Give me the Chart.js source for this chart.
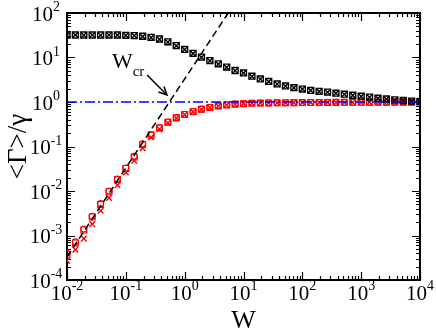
<!DOCTYPE html>
<html><head><meta charset="utf-8">
<script src="https://cdn.jsdelivr.net/npm/chart.js@4/dist/chart.umd.min.js"></script>
<style>html,body{margin:0;padding:0;background:#fff}canvas{display:block}</style>
</head><body>
<canvas id="c" width="436" height="332"></canvas>
<script>
// ---- data ----
const W = [0.01,0.01389,0.01931,0.02683,0.03728,0.05179,0.07197,0.1,0.1389,0.1931,0.2683,0.3728,0.5179,0.7197,
  1,1.389,1.931,2.683,3.728,5.179,7.197,10,13.89,19.31,26.83,37.28,51.79,71.97,100,138.9,193.1,268.3,372.8,517.9,719.7,
  1000,1389,1931,2683,3728,5179,7197,10000];
const blackSquares = [32,32,32,32,32,32,32,31.5,31,30,28.4,26,22.5,18.5,15.2,12.4,10.2,8.5,7.2,6.1,5.1,4.5,3.8,3.3,2.9,2.55,2.3,2.1,1.95,1.82,1.74,1.67,1.58,1.5,1.42,1.35,1.29,1.22,1.17,1.12,1.08,1.05,1.03];
const blackCrosses = [31.5,32,31.8,32,31.7,32,31.8,31.3,30.8,29.7,28,25.6,22.2,18.3,15,12.3,10.1,8.4,7.1,6,5.05,4.45,3.78,3.28,2.88,2.53,2.28,2.08,1.94,1.81,1.72,1.66,1.57,1.49,1.41,1.34,1.28,1.21,1.16,1.11,1.07,1.04,1.02];
const redCircles = [4.0e-4,7.2e-4,1.4e-3,2.7e-3,5.2e-3,0.0100,0.0185,0.033,0.06,0.115,0.185,0.265,0.355,0.445,0.53,0.61,0.69,0.76,0.82,0.865,0.9,0.92,0.94,0.95,0.955,0.96,0.965,0.97,0.972,0.975,0.978,0.98,0.982,0.984,0.986,0.988,0.99,0.991,0.992,0.993,0.994,0.995,0.996];
const redSquares = [3.7e-4,6.8e-4,1.33e-3,2.6e-3,5.0e-3,0.0096,0.018,0.032,0.058,0.11,0.18,0.26,0.35,0.44,0.525,0.605,0.685,0.755,0.815,0.86,0.895,0.918,0.935,0.947,0.953,0.958,0.963,0.968,0.971,0.974,0.977,0.979,0.981,0.983,0.985,0.987,0.989,0.99,0.991,0.992,0.993,0.994,0.995];
const redCrosses = [2.7e-4,4.8e-4,8.5e-4,1.8e-3,3.6e-3,7.0e-3,0.0135,0.026,0.048,0.092,0.16,0.245,0.34,0.435,0.52,0.6,0.68,0.75,0.81,0.857,0.892,0.915,0.932,0.944,0.95,0.956,0.961,0.966,0.97,0.973,0.976,0.978,0.98,0.982,0.984,0.986,0.988,0.989,0.99,0.991,0.992,0.993,0.994];
const dashLineX = [0.01, 5.5];
const dashLineY = [3.3e-4, 100];
const unityLineX = [0.01, 10000];
const unityLineY = [1, 1];
const xTickExps = [-2,-1,0,1,2,3,4];
const yTickExps = [-4,-3,-2,-1,0,1,2];
const xTitle = 'W';
const yTitle = '<Γ>/γ';
const annMain = 'W', annSub = 'cr';

const pts = (xs, ys) => xs.map((x,i)=>({x, y: ys[i]}));
const SERIF = '"Liberation Serif","Times New Roman",serif';

const decoPlugin = {
  id: 'deco',
  beforeDatasetsDraw(chart){
    const {ctx, chartArea:a, scales:{x, y}} = chart;
    ctx.save();
    ctx.strokeStyle = '#000';
    ctx.lineWidth = 1.2;
    ctx.beginPath();
    const xMin = Math.log10(x.min), xMax = Math.log10(x.max);
    for (let d = Math.round(xMin); d <= Math.round(xMax); d++) {
      for (let m = 1; m <= 9; m++) {
        const v = m * Math.pow(10, d);
        if (v < x.min*0.999 || v > x.max*1.001) continue;
        const px = Math.round(x.getPixelForValue(v)) + 0.5;
        const len = m === 1 ? 8 : 4;
        ctx.moveTo(px, a.bottom); ctx.lineTo(px, a.bottom - len);
        ctx.moveTo(px, a.top); ctx.lineTo(px, a.top + len);
      }
    }
    const yMin = Math.log10(y.min), yMax = Math.log10(y.max);
    for (let d = Math.round(yMin); d <= Math.round(yMax); d++) {
      for (let m = 1; m <= 9; m++) {
        const v = m * Math.pow(10, d);
        if (v < y.min*0.999 || v > y.max*1.001) continue;
        const py = Math.round(y.getPixelForValue(v)) + 0.5;
        const len = m === 1 ? 8 : 4;
        ctx.moveTo(a.left, py); ctx.lineTo(a.left + len, py);
        ctx.moveTo(a.right, py); ctx.lineTo(a.right - len, py);
      }
    }
    ctx.stroke();
    ctx.lineWidth = 2;
    ctx.strokeRect(a.left, a.top, a.right - a.left, a.bottom - a.top);
    ctx.restore();
  },
  afterDatasetsDraw(chart){
    const {ctx, scales:{x, y}} = chart;
    ctx.save();
    ctx.fillStyle = '#000';
    ctx.strokeStyle = '#000';
    const tx = x.getPixelForValue(0.058), ty = y.getPixelForValue(5.8);
    ctx.font = '22px ' + SERIF;
    ctx.textBaseline = 'alphabetic';
    ctx.textAlign = 'left';
    ctx.fillText(annMain, tx, ty);
    const ww = ctx.measureText(annMain).width;
    ctx.font = '15px ' + SERIF;
    ctx.fillText(annSub, tx + ww, ty + 8);
    const x0 = x.getPixelForValue(0.23), y0 = y.getPixelForValue(4.05);
    const x1 = x.getPixelForValue(0.50), y1 = y.getPixelForValue(1.44);
    ctx.lineWidth = 1.5;
    ctx.beginPath(); ctx.moveTo(x0, y0); ctx.lineTo(x1, y1); ctx.stroke();
    const ang = Math.atan2(y1 - y0, x1 - x0), hl = 9, hw = 0.45;
    ctx.beginPath();
    ctx.moveTo(x1 - hl*Math.cos(ang - hw), y1 - hl*Math.sin(ang - hw));
    ctx.lineTo(x1, y1);
    ctx.lineTo(x1 - hl*Math.cos(ang + hw), y1 - hl*Math.sin(ang + hw));
    ctx.stroke();
    ctx.restore();
  },
  afterDraw(chart){
    const {ctx, chartArea:a, scales:{x, y}} = chart;
    ctx.save();
    ctx.fillStyle = '#000';
    ctx.textBaseline = 'alphabetic';
    ctx.textAlign = 'left';
    const big = '21px ' + SERIF, small = '14px ' + SERIF;
    x.ticks.forEach(t => {
      const e = Math.round(Math.log10(t.value));
      const b = '10', s = String(e);
      ctx.font = big; const w1 = ctx.measureText(b).width;
      ctx.font = small; const w2 = ctx.measureText(s).width;
      const px = x.getPixelForValue(t.value);
      const x0 = px - (w1 + w2)/2;
      ctx.font = big; ctx.fillText(b, x0, a.bottom + 20);
      ctx.font = small; ctx.fillText(s, x0 + w1, a.bottom + 10);
    });
    y.ticks.forEach(t => {
      const e = Math.round(Math.log10(t.value));
      const b = '10', s = String(e);
      ctx.font = big; const w1 = ctx.measureText(b).width;
      ctx.font = small; const w2 = ctx.measureText(s).width;
      const py = y.getPixelForValue(t.value);
      const x0 = 46 - (w1 + w2)/2;
      ctx.font = big; ctx.fillText(b, x0, py + 7.5);
      ctx.font = small; ctx.fillText(s, x0 + w1, py - 2);
    });
    ctx.restore();
  }
};

const markerSet = (label, ys, color, style, r, bw) => ({
  label, data: pts(W, ys), showLine: false,
  pointStyle: style, pointRadius: r, pointHoverRadius: r,
  borderColor: color, backgroundColor: 'rgba(0,0,0,0)', pointBorderWidth: bw
});

new Chart(document.getElementById('c'), {
  type: 'scatter',
  data: { datasets: [
    { label: 'unity', data: pts(unityLineX, unityLineY), showLine: true, borderColor: '#0000ff', borderWidth: 1.5,
      borderDash: [10,3,2,3], pointRadius: 0 },
    { label: 'W^2', data: pts(dashLineX, dashLineY), showLine: true, borderColor: '#000', borderWidth: 1.5,
      borderDash: [7,4], pointRadius: 0 },
    markerSet('black squares', blackSquares, '#000', 'rect', 4.2, 1.4),
    markerSet('black crosses', blackCrosses, '#000', 'crossRot', 4, 1.4),
    markerSet('red circles', redCircles, '#ff0000', 'circle', 3, 1.1),
    markerSet('red squares', redSquares, '#ff0000', 'rect', 4.2, 1.1),
    markerSet('red crosses', redCrosses, '#ff0000', 'crossRot', 4, 1.4)
  ]},
  options: {
    responsive: false, animation: false, devicePixelRatio: 1,
    layout: { padding: { left: 0, right: 16, top: 13, bottom: 0 } },
    plugins: { legend: { display: false }, tooltip: { enabled: false } },
    scales: {
      x: { type: 'logarithmic', min: 0.01, max: 10000,
        grid: { display: false }, border: { display: false },
        ticks: { display: false },
        afterBuildTicks: s => { s.ticks = xTickExps.map(e => ({ value: Math.pow(10, e) })); },
        afterFit: s => { s.height = 52; s.paddingLeft = 0; s.paddingRight = 0; },
        title: { display: true, text: xTitle, color: '#000', font: { family: SERIF, size: 26, lineHeight: 1 }, padding: { top: 0, bottom: -2 } }
      },
      y: { type: 'logarithmic', min: 1e-4, max: 100,
        grid: { display: false }, border: { display: false },
        ticks: { display: false },
        afterBuildTicks: s => { s.ticks = yTickExps.map(e => ({ value: Math.pow(10, e) })); },
        afterFit: s => { s.width = 67; s.paddingTop = 0; s.paddingBottom = 0; },
        title: { display: true, text: yTitle, color: '#000', font: { family: SERIF, size: 27, lineHeight: 1 }, padding: { top: 5, bottom: 0 } }
      }
    }
  },
  plugins: [decoPlugin]
});
</script>
</body></html>
